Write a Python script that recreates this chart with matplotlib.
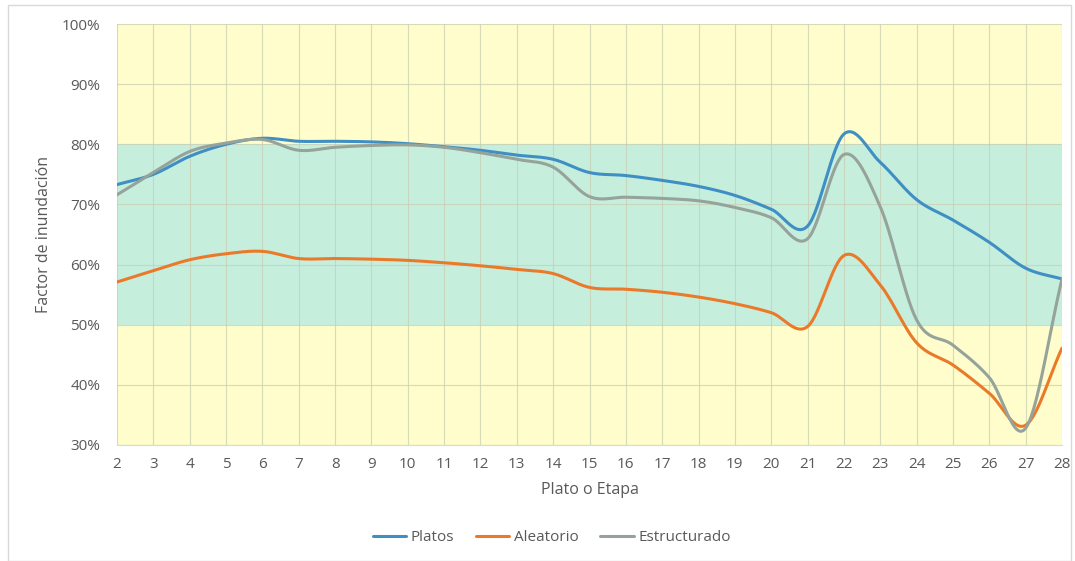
import numpy as np
import matplotlib.pyplot as plt
from matplotlib.patches import Rectangle

# plate / stage number
platos_x = list(range(2, 29))

# flooding factor (%) per stage
platos = [73.3, 75.0, 78.0, 80.0, 81.0, 80.5, 80.5, 80.4, 80.1, 79.6, 79.0, 78.2, 77.5,
          75.3, 74.8, 74.0, 73.0, 71.5, 69.2, 66.4, 81.7, 77.0, 70.8, 67.4, 63.7, 59.4, 57.6]
aleatorio = [57.1, 59.0, 60.8, 61.8, 62.2, 61.0, 61.0, 60.9, 60.7, 60.3, 59.8, 59.2, 58.5,
             56.2, 55.9, 55.4, 54.6, 53.5, 52.0, 49.7, 61.5, 56.6, 47.0, 43.3, 38.6, 33.3, 46.1]
estructurado = [71.6, 75.3, 78.8, 80.2, 80.8, 79.0, 79.5, 79.8, 79.9, 79.5, 78.6, 77.5, 76.2,
                71.3, 71.2, 71.0, 70.6, 69.5, 67.8, 64.3, 78.3, 69.6, 50.8, 46.6, 41.2, 32.8, 57.6]

series_names = ['Platos', 'Aleatorio', 'Estructurado']
series_colors = ['#3f8fc4', '#ea7a2a', '#96a39a']

# acceptable operating band
banda_baja, banda_alta = 50, 80


# excel style smoothed line (catmull-rom through the points)
def suavizar(x, y, n=30):
    x = np.asarray(x, float)
    y = np.asarray(y, float)
    px = np.concatenate(([2 * x[0] - x[1]], x, [2 * x[-1] - x[-2]]))
    py = np.concatenate(([2 * y[0] - y[1]], y, [2 * y[-1] - y[-2]]))
    xs, ys = [], []
    t = np.linspace(0, 1, n, endpoint=False)
    for i in range(1, len(px) - 2):
        for p, out in ((px, xs), (py, ys)):
            p0, p1, p2, p3 = p[i - 1], p[i], p[i + 1], p[i + 2]
            out.extend(0.5 * ((2 * p1) + (-p0 + p2) * t + (2 * p0 - 5 * p1 + 4 * p2 - p3) * t ** 2
                              + (-p0 + 3 * p1 - 3 * p2 + p3) * t ** 3))
    xs.append(x[-1])
    ys.append(y[-1])
    return np.array(xs), np.array(ys)


plt.rcParams['font.family'] = ['Open Sans', 'DejaVu Sans']

fig = plt.figure(figsize=(10.75, 5.61), dpi=100)
fig.patches.append(Rectangle((8 / 1075, 0), 1 - 12 / 1075, 1 - 5 / 561, transform=fig.transFigure,
                             fill=False, edgecolor='#d9d9d9', linewidth=1))
ax = fig.add_axes([117 / 1075, (561 - 445) / 561, 945 / 1075, 421 / 561])

ax.axhspan(30, banda_baja, color='#fefdcb', zorder=0, linewidth=0)
ax.axhspan(banda_baja, banda_alta, color='#c6eedd', zorder=0, linewidth=0)
ax.axhspan(banda_alta, 100, color='#fefdcb', zorder=0, linewidth=0)

for name, vals, col in zip(series_names, [platos, aleatorio, estructurado], series_colors):
    sx, sy = suavizar(platos_x, vals)
    ax.plot(sx, sy, color=col, linewidth=2.2, label=name, zorder=3, solid_capstyle='round')

ax.set_xlim(2, 28)
ax.set_ylim(30, 100)
ax.set_xticks(platos_x)
ax.set_yticks(range(30, 101, 10))
ax.set_yticklabels([f'{v}%' for v in range(30, 101, 10)])
ax.grid(True, color='#c9cdb0', linewidth=0.8, alpha=0.7, zorder=1)
ax.set_axisbelow(True)
for s in ax.spines.values():
    s.set_visible(False)
ax.spines['bottom'].set_visible(True)
ax.spines['bottom'].set_color('#d9d9d9')
ax.tick_params(axis='both', length=0, colors='#595959', labelsize=11)
ax.tick_params(axis='x', pad=9)
ax.tick_params(axis='y', pad=12)

ax.set_xlabel('Plato o Etapa', fontsize=11.5, color='#595959', labelpad=7)
ax.set_ylabel('Factor de inundación', fontsize=11.5, color='#595959', labelpad=7)

ax.legend(loc='upper center', bbox_to_anchor=(0.46, -0.17), ncol=3, frameon=False,
          fontsize=11, labelcolor='#595959', handlelength=2.2, handletextpad=0.3,
          columnspacing=1.4)

fig.savefig('out.png', dpi=100)
